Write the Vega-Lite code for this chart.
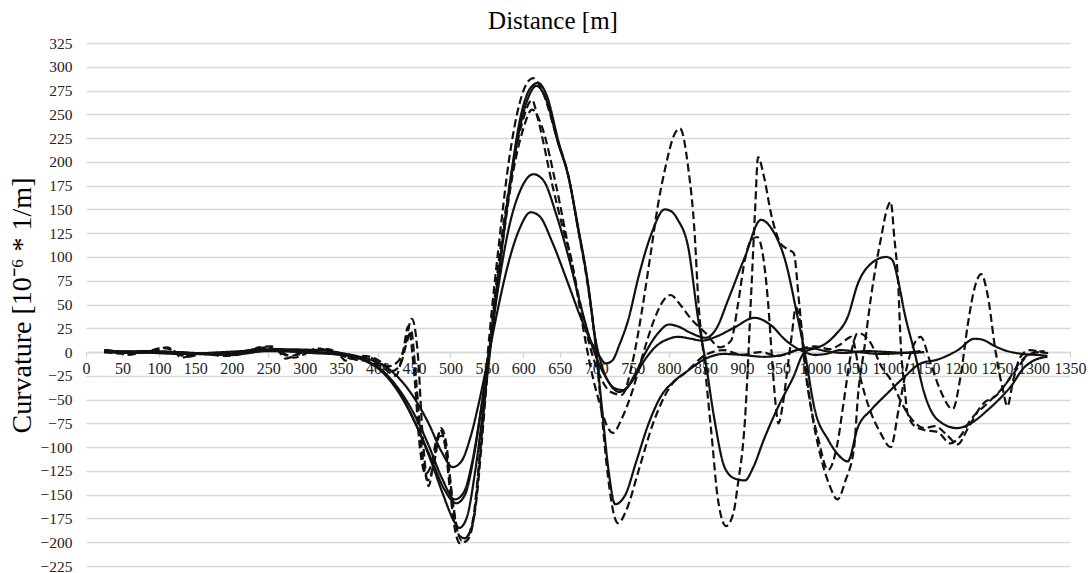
{
  "$schema": "https://vega.github.io/schema/vega-lite/v6.json",
  "width": 984,
  "height": 523,
  "autosize": {"type": "none"},
  "padding": {"left": 86, "top": 43, "right": 18, "bottom": 7},
  "background": "white",
  "config": {"view": {"stroke": null}},
  "title": {"text": "Distance [m]", "font": "Liberation Serif", "fontSize": 25, "fontWeight": "normal", "color": "#000000", "anchor": "middle", "dx": -25, "offset": -18, "baseline": "alphabetic"},
  "datasets": {
    "pts": [
      {"s":"S1","m":25,"v":2},{"s":"S1","m":40,"v":1},{"s":"S1","m":80,"v":0},{"s":"S1","m":140,"v":-1},{"s":"S1","m":200,"v":-2},{"s":"S1","m":250,"v":1},{"s":"S1","m":300,"v":0},{"s":"S1","m":340,"v":-1},{"s":"S1","m":370,"v":-4},{"s":"S1","m":390,"v":-8},{"s":"S1","m":410,"v":-15},{"s":"S1","m":430,"v":-28},{"s":"S1","m":450,"v":-48},{"s":"S1","m":470,"v":-75},{"s":"S1","m":488,"v":-105},{"s":"S1","m":503,"v":-121},{"s":"S1","m":515,"v":-115},{"s":"S1","m":528,"v":-88},{"s":"S1","m":540,"v":-50},{"s":"S1","m":552,"v":-5},{"s":"S1","m":565,"v":45},{"s":"S1","m":580,"v":95},{"s":"S1","m":595,"v":130},{"s":"S1","m":610,"v":147},{"s":"S1","m":622,"v":143},{"s":"S1","m":640,"v":115},{"s":"S1","m":660,"v":75},{"s":"S1","m":680,"v":34},{"s":"S1","m":695,"v":8},{"s":"S1","m":705,"v":-5},{"s":"S1","m":713,"v":-12},{"s":"S1","m":722,"v":-9},{"s":"S1","m":732,"v":8},{"s":"S1","m":744,"v":34},{"s":"S1","m":758,"v":79},{"s":"S1","m":776,"v":125},{"s":"S1","m":794,"v":150},{"s":"S1","m":803,"v":148},{"s":"S1","m":812,"v":139},{"s":"S1","m":826,"v":111},{"s":"S1","m":840,"v":34},{"s":"S1","m":850,"v":-10},{"s":"S1","m":862,"v":-70},{"s":"S1","m":876,"v":-121},{"s":"S1","m":890,"v":-133},{"s":"S1","m":904,"v":-135},{"s":"S1","m":915,"v":-122},{"s":"S1","m":930,"v":-92},{"s":"S1","m":950,"v":-57},{"s":"S1","m":970,"v":-27},{"s":"S1","m":986,"v":0},{"s":"S1","m":1000,"v":4},{"s":"S1","m":1013,"v":8},{"s":"S1","m":1028,"v":18},{"s":"S1","m":1045,"v":37},{"s":"S1","m":1059,"v":72},{"s":"S1","m":1077,"v":93},{"s":"S1","m":1098,"v":100},{"s":"S1","m":1106,"v":97},{"s":"S1","m":1114,"v":76},{"s":"S1","m":1123,"v":41},{"s":"S1","m":1137,"v":-1},{"s":"S1","m":1150,"v":-43},{"s":"S1","m":1168,"v":-71},{"s":"S1","m":1195,"v":-80},{"s":"S1","m":1214,"v":-75},{"s":"S1","m":1237,"v":-61},{"s":"S1","m":1255,"v":-48},{"s":"S1","m":1270,"v":-35},{"s":"S1","m":1285,"v":-18},{"s":"S1","m":1300,"v":-9},{"s":"S1","m":1319,"v":-5},

      {"s":"S2","m":25,"v":0},{"s":"S2","m":60,"v":-1},{"s":"S2","m":120,"v":0},{"s":"S2","m":180,"v":-3},{"s":"S2","m":240,"v":3},{"s":"S2","m":300,"v":1},{"s":"S2","m":340,"v":-2},{"s":"S2","m":370,"v":-5},{"s":"S2","m":390,"v":-12},{"s":"S2","m":410,"v":-22},{"s":"S2","m":430,"v":-40},{"s":"S2","m":450,"v":-65},{"s":"S2","m":470,"v":-98},{"s":"S2","m":488,"v":-132},{"s":"S2","m":506,"v":-155},{"s":"S2","m":518,"v":-148},{"s":"S2","m":530,"v":-115},{"s":"S2","m":542,"v":-60},{"s":"S2","m":553,"v":0},{"s":"S2","m":565,"v":65},{"s":"S2","m":580,"v":130},{"s":"S2","m":597,"v":172},{"s":"S2","m":614,"v":187},{"s":"S2","m":628,"v":180},{"s":"S2","m":645,"v":145},{"s":"S2","m":662,"v":100},{"s":"S2","m":680,"v":45},{"s":"S2","m":695,"v":5},{"s":"S2","m":710,"v":-22},{"s":"S2","m":725,"v":-38},{"s":"S2","m":738,"v":-40},{"s":"S2","m":752,"v":-25},{"s":"S2","m":768,"v":0},{"s":"S2","m":785,"v":20},{"s":"S2","m":800,"v":29},{"s":"S2","m":812,"v":27},{"s":"S2","m":830,"v":20},{"s":"S2","m":850,"v":15},{"s":"S2","m":865,"v":25},{"s":"S2","m":881,"v":55},{"s":"S2","m":904,"v":100},{"s":"S2","m":926,"v":139},{"s":"S2","m":942,"v":128},{"s":"S2","m":959,"v":97},{"s":"S2","m":977,"v":34},{"s":"S2","m":986,"v":0},{"s":"S2","m":1000,"v":-61},{"s":"S2","m":1018,"v":-92},{"s":"S2","m":1032,"v":-108},{"s":"S2","m":1045,"v":-115},{"s":"S2","m":1059,"v":-79},{"s":"S2","m":1077,"v":-61},{"s":"S2","m":1100,"v":-43},{"s":"S2","m":1123,"v":-26},{"s":"S2","m":1145,"v":-12},{"s":"S2","m":1168,"v":-8},{"s":"S2","m":1196,"v":2},{"s":"S2","m":1219,"v":14},{"s":"S2","m":1230,"v":13},{"s":"S2","m":1245,"v":7},{"s":"S2","m":1260,"v":2},{"s":"S2","m":1285,"v":-2},{"s":"S2","m":1305,"v":-3},{"s":"S2","m":1319,"v":-4},

      {"s":"S3","m":25,"v":1},{"s":"S3","m":70,"v":0},{"s":"S3","m":130,"v":-2},{"s":"S3","m":190,"v":0},{"s":"S3","m":250,"v":2},{"s":"S3","m":310,"v":-1},{"s":"S3","m":350,"v":-3},{"s":"S3","m":375,"v":-7},{"s":"S3","m":395,"v":-14},{"s":"S3","m":415,"v":-28},{"s":"S3","m":435,"v":-50},{"s":"S3","m":455,"v":-80},{"s":"S3","m":475,"v":-115},{"s":"S3","m":492,"v":-145},{"s":"S3","m":508,"v":-159},{"s":"S3","m":520,"v":-150},{"s":"S3","m":532,"v":-110},{"s":"S3","m":544,"v":-50},{"s":"S3","m":554,"v":5},{"s":"S3","m":566,"v":80},{"s":"S3","m":580,"v":165},{"s":"S3","m":595,"v":235},{"s":"S3","m":608,"v":270},{"s":"S3","m":618,"v":280},{"s":"S3","m":630,"v":268},{"s":"S3","m":648,"v":219},{"s":"S3","m":662,"v":184},{"s":"S3","m":675,"v":130},{"s":"S3","m":689,"v":70},{"s":"S3","m":698,"v":18},{"s":"S3","m":708,"v":-15},{"s":"S3","m":720,"v":-35},{"s":"S3","m":732,"v":-42},{"s":"S3","m":748,"v":-32},{"s":"S3","m":765,"v":-10},{"s":"S3","m":782,"v":6},{"s":"S3","m":800,"v":14},{"s":"S3","m":812,"v":16},{"s":"S3","m":830,"v":14},{"s":"S3","m":845,"v":12},{"s":"S3","m":867,"v":17},{"s":"S3","m":890,"v":26},{"s":"S3","m":917,"v":36},{"s":"S3","m":940,"v":28},{"s":"S3","m":959,"v":13},{"s":"S3","m":986,"v":0},{"s":"S3","m":1000,"v":-3},{"s":"S3","m":1015,"v":-2},{"s":"S3","m":1035,"v":2},{"s":"S3","m":1060,"v":0},{"s":"S3","m":1090,"v":-2},{"s":"S3","m":1120,"v":-1},{"s":"S3","m":1145,"v":1},

      {"s":"S4","m":25,"v":0},{"s":"S4","m":90,"v":1},{"s":"S4","m":150,"v":-1},{"s":"S4","m":210,"v":-2},{"s":"S4","m":260,"v":3},{"s":"S4","m":320,"v":2},{"s":"S4","m":350,"v":-1},{"s":"S4","m":372,"v":-5},{"s":"S4","m":392,"v":-12},{"s":"S4","m":412,"v":-24},{"s":"S4","m":432,"v":-45},{"s":"S4","m":452,"v":-75},{"s":"S4","m":472,"v":-112},{"s":"S4","m":490,"v":-150},{"s":"S4","m":505,"v":-178},{"s":"S4","m":512,"v":-185},{"s":"S4","m":522,"v":-175},{"s":"S4","m":534,"v":-125},{"s":"S4","m":545,"v":-60},{"s":"S4","m":555,"v":5},{"s":"S4","m":568,"v":95},{"s":"S4","m":582,"v":180},{"s":"S4","m":597,"v":250},{"s":"S4","m":610,"v":278},{"s":"S4","m":620,"v":283},{"s":"S4","m":632,"v":270},{"s":"S4","m":648,"v":222},{"s":"S4","m":662,"v":184},{"s":"S4","m":675,"v":132},{"s":"S4","m":688,"v":75},{"s":"S4","m":698,"v":15},{"s":"S4","m":708,"v":-60},{"s":"S4","m":717,"v":-125},{"s":"S4","m":726,"v":-160},{"s":"S4","m":740,"v":-150},{"s":"S4","m":755,"v":-115},{"s":"S4","m":772,"v":-75},{"s":"S4","m":790,"v":-45},{"s":"S4","m":805,"v":-32},{"s":"S4","m":825,"v":-20},{"s":"S4","m":850,"v":-7},{"s":"S4","m":875,"v":-2},{"s":"S4","m":900,"v":-3},{"s":"S4","m":930,"v":-5},{"s":"S4","m":955,"v":-3},{"s":"S4","m":975,"v":2},{"s":"S4","m":995,"v":4},{"s":"S4","m":1015,"v":1},{"s":"S4","m":1040,"v":-1},{"s":"S4","m":1070,"v":1},{"s":"S4","m":1100,"v":0},{"s":"S4","m":1130,"v":-1},{"s":"S4","m":1150,"v":0},

      {"s":"D1","m":25,"v":2},{"s":"D1","m":45,"v":0},{"s":"D1","m":55,"v":-3},{"s":"D1","m":75,"v":-1},{"s":"D1","m":100,"v":3},{"s":"D1","m":110,"v":5},{"s":"D1","m":120,"v":2},{"s":"D1","m":131,"v":-6},{"s":"D1","m":145,"v":-3},{"s":"D1","m":170,"v":-1},{"s":"D1","m":200,"v":-3},{"s":"D1","m":225,"v":1},{"s":"D1","m":237,"v":5},{"s":"D1","m":255,"v":6},{"s":"D1","m":265,"v":0},{"s":"D1","m":274,"v":-7},{"s":"D1","m":290,"v":-2},{"s":"D1","m":305,"v":1},{"s":"D1","m":319,"v":4},{"s":"D1","m":335,"v":0},{"s":"D1","m":350,"v":-5},{"s":"D1","m":356,"v":-9},{"s":"D1","m":365,"v":-6},{"s":"D1","m":380,"v":-4},{"s":"D1","m":400,"v":-8},{"s":"D1","m":415,"v":-15},{"s":"D1","m":428,"v":-10},{"s":"D1","m":437,"v":5},{"s":"D1","m":447,"v":35},{"s":"D1","m":455,"v":0},{"s":"D1","m":462,"v":-90},{"s":"D1","m":470,"v":-141},{"s":"D1","m":478,"v":-110},{"s":"D1","m":486,"v":-82},{"s":"D1","m":493,"v":-100},{"s":"D1","m":500,"v":-150},{"s":"D1","m":507,"v":-190},{"s":"D1","m":513,"v":-201},{"s":"D1","m":523,"v":-198},{"s":"D1","m":533,"v":-170},{"s":"D1","m":541,"v":-100},{"s":"D1","m":548,"v":-30},{"s":"D1","m":555,"v":30},{"s":"D1","m":566,"v":110},{"s":"D1","m":580,"v":200},{"s":"D1","m":595,"v":262},{"s":"D1","m":607,"v":285},{"s":"D1","m":614,"v":288},{"s":"D1","m":625,"v":276},{"s":"D1","m":648,"v":220},{"s":"D1","m":662,"v":185},{"s":"D1","m":675,"v":130},{"s":"D1","m":688,"v":72},{"s":"D1","m":698,"v":15},{"s":"D1","m":707,"v":-60},{"s":"D1","m":716,"v":-130},{"s":"D1","m":724,"v":-170},{"s":"D1","m":730,"v":-180},{"s":"D1","m":742,"v":-165},{"s":"D1","m":758,"v":-125},{"s":"D1","m":778,"v":-75},{"s":"D1","m":800,"v":-38},{"s":"D1","m":825,"v":-20},{"s":"D1","m":850,"v":-3},{"s":"D1","m":875,"v":2},{"s":"D1","m":900,"v":-3},{"s":"D1","m":925,"v":0},{"s":"D1","m":950,"v":-4},{"s":"D1","m":975,"v":2},{"s":"D1","m":1000,"v":6},{"s":"D1","m":1020,"v":3},{"s":"D1","m":1035,"v":8},{"s":"D1","m":1050,"v":16},{"s":"D1","m":1063,"v":-29},{"s":"D1","m":1075,"v":-60},{"s":"D1","m":1090,"v":-85},{"s":"D1","m":1104,"v":-100},{"s":"D1","m":1115,"v":-60},{"s":"D1","m":1128,"v":-10},{"s":"D1","m":1145,"v":16},{"s":"D1","m":1158,"v":-10},{"s":"D1","m":1172,"v":-40},{"s":"D1","m":1189,"v":-60},{"s":"D1","m":1200,"v":-25},{"s":"D1","m":1210,"v":30},{"s":"D1","m":1220,"v":70},{"s":"D1","m":1228,"v":82},{"s":"D1","m":1237,"v":60},{"s":"D1","m":1248,"v":0},{"s":"D1","m":1258,"v":-40},{"s":"D1","m":1264,"v":-57},{"s":"D1","m":1272,"v":-30},{"s":"D1","m":1282,"v":-5},{"s":"D1","m":1295,"v":2},{"s":"D1","m":1310,"v":0},{"s":"D1","m":1320,"v":-1},

      {"s":"D2","m":25,"v":0},{"s":"D2","m":60,"v":-2},{"s":"D2","m":90,"v":1},{"s":"D2","m":120,"v":-1},{"s":"D2","m":140,"v":-5},{"s":"D2","m":160,"v":-2},{"s":"D2","m":190,"v":-4},{"s":"D2","m":215,"v":-2},{"s":"D2","m":240,"v":4},{"s":"D2","m":260,"v":3},{"s":"D2","m":280,"v":-4},{"s":"D2","m":300,"v":-1},{"s":"D2","m":325,"v":3},{"s":"D2","m":345,"v":-2},{"s":"D2","m":370,"v":-8},{"s":"D2","m":390,"v":-10},{"s":"D2","m":410,"v":-18},{"s":"D2","m":425,"v":-25},{"s":"D2","m":435,"v":0},{"s":"D2","m":442,"v":27},{"s":"D2","m":450,"v":-20},{"s":"D2","m":458,"v":-100},{"s":"D2","m":466,"v":-128},{"s":"D2","m":474,"v":-118},{"s":"D2","m":482,"v":-90},{"s":"D2","m":489,"v":-88},{"s":"D2","m":497,"v":-120},{"s":"D2","m":505,"v":-170},{"s":"D2","m":512,"v":-193},{"s":"D2","m":520,"v":-196},{"s":"D2","m":530,"v":-180},{"s":"D2","m":539,"v":-120},{"s":"D2","m":547,"v":-50},{"s":"D2","m":555,"v":15},{"s":"D2","m":567,"v":100},{"s":"D2","m":582,"v":180},{"s":"D2","m":598,"v":240},{"s":"D2","m":612,"v":265},{"s":"D2","m":620,"v":245},{"s":"D2","m":640,"v":175},{"s":"D2","m":655,"v":128},{"s":"D2","m":666,"v":97},{"s":"D2","m":680,"v":34},{"s":"D2","m":692,"v":-15},{"s":"D2","m":705,"v":-55},{"s":"D2","m":715,"v":-78},{"s":"D2","m":723,"v":-85},{"s":"D2","m":735,"v":-70},{"s":"D2","m":750,"v":-40},{"s":"D2","m":765,"v":0},{"s":"D2","m":780,"v":35},{"s":"D2","m":793,"v":55},{"s":"D2","m":802,"v":60},{"s":"D2","m":815,"v":50},{"s":"D2","m":830,"v":35},{"s":"D2","m":850,"v":20},{"s":"D2","m":870,"v":5},{"s":"D2","m":885,"v":12},{"s":"D2","m":894,"v":48},{"s":"D2","m":904,"v":97},{"s":"D2","m":913,"v":118},{"s":"D2","m":921,"v":121},{"s":"D2","m":930,"v":95},{"s":"D2","m":936,"v":50},{"s":"D2","m":941,"v":-5},{"s":"D2","m":946,"v":-54},{"s":"D2","m":950,"v":-75},{"s":"D2","m":956,"v":-55},{"s":"D2","m":962,"v":-20},{"s":"D2","m":968,"v":16},{"s":"D2","m":974,"v":47},{"s":"D2","m":980,"v":30},{"s":"D2","m":987,"v":-20},{"s":"D2","m":995,"v":-60},{"s":"D2","m":1004,"v":-89},{"s":"D2","m":1018,"v":-124},{"s":"D2","m":1030,"v":-100},{"s":"D2","m":1040,"v":-50},{"s":"D2","m":1050,"v":0},{"s":"D2","m":1059,"v":20},{"s":"D2","m":1077,"v":9},{"s":"D2","m":1091,"v":-15},{"s":"D2","m":1104,"v":-29},{"s":"D2","m":1120,"v":-55},{"s":"D2","m":1138,"v":-75},{"s":"D2","m":1150,"v":-80},{"s":"D2","m":1165,"v":-78},{"s":"D2","m":1182,"v":-88},{"s":"D2","m":1196,"v":-97},{"s":"D2","m":1210,"v":-80},{"s":"D2","m":1230,"v":-55},{"s":"D2","m":1250,"v":-45},{"s":"D2","m":1265,"v":-30},{"s":"D2","m":1280,"v":-12},{"s":"D2","m":1295,"v":-2},{"s":"D2","m":1310,"v":0},

      {"s":"D3","m":25,"v":1},{"s":"D3","m":50,"v":-1},{"s":"D3","m":80,"v":0},{"s":"D3","m":105,"v":4},{"s":"D3","m":115,"v":3},{"s":"D3","m":135,"v":-4},{"s":"D3","m":160,"v":-1},{"s":"D3","m":185,"v":-3},{"s":"D3","m":210,"v":-1},{"s":"D3","m":230,"v":3},{"s":"D3","m":250,"v":5},{"s":"D3","m":270,"v":-2},{"s":"D3","m":285,"v":-6},{"s":"D3","m":310,"v":1},{"s":"D3","m":330,"v":3},{"s":"D3","m":350,"v":-2},{"s":"D3","m":365,"v":-7},{"s":"D3","m":385,"v":-5},{"s":"D3","m":405,"v":-12},{"s":"D3","m":420,"v":-20},{"s":"D3","m":432,"v":-12},{"s":"D3","m":440,"v":10},{"s":"D3","m":446,"v":22},{"s":"D3","m":453,"v":-30},{"s":"D3","m":461,"v":-105},{"s":"D3","m":469,"v":-135},{"s":"D3","m":478,"v":-115},{"s":"D3","m":487,"v":-80},{"s":"D3","m":494,"v":-95},{"s":"D3","m":502,"v":-150},{"s":"D3","m":509,"v":-185},{"s":"D3","m":515,"v":-198},{"s":"D3","m":525,"v":-192},{"s":"D3","m":535,"v":-160},{"s":"D3","m":543,"v":-95},{"s":"D3","m":550,"v":-30},{"s":"D3","m":557,"v":25},{"s":"D3","m":570,"v":105},{"s":"D3","m":585,"v":185},{"s":"D3","m":600,"v":235},{"s":"D3","m":612,"v":255},{"s":"D3","m":625,"v":238},{"s":"D3","m":645,"v":175},{"s":"D3","m":662,"v":110},{"s":"D3","m":677,"v":55},{"s":"D3","m":690,"v":10},{"s":"D3","m":705,"v":-25},{"s":"D3","m":720,"v":-42},{"s":"D3","m":735,"v":-45},{"s":"D3","m":750,"v":-10},{"s":"D3","m":762,"v":40},{"s":"D3","m":775,"v":105},{"s":"D3","m":785,"v":156},{"s":"D3","m":794,"v":191},{"s":"D3","m":808,"v":230},{"s":"D3","m":815,"v":235},{"s":"D3","m":826,"v":195},{"s":"D3","m":835,"v":125},{"s":"D3","m":840,"v":55},{"s":"D3","m":849,"v":-15},{"s":"D3","m":858,"v":-85},{"s":"D3","m":867,"v":-155},{"s":"D3","m":878,"v":-183},{"s":"D3","m":888,"v":-170},{"s":"D3","m":894,"v":-141},{"s":"D3","m":904,"v":-72},{"s":"D3","m":913,"v":68},{"s":"D3","m":918,"v":150},{"s":"D3","m":922,"v":205},{"s":"D3","m":930,"v":185},{"s":"D3","m":940,"v":145},{"s":"D3","m":953,"v":114},{"s":"D3","m":963,"v":108},{"s":"D3","m":971,"v":104},{"s":"D3","m":978,"v":55},{"s":"D3","m":985,"v":0},{"s":"D3","m":995,"v":-60},{"s":"D3","m":1008,"v":-110},{"s":"D3","m":1020,"v":-140},{"s":"D3","m":1031,"v":-155},{"s":"D3","m":1042,"v":-135},{"s":"D3","m":1054,"v":-99},{"s":"D3","m":1059,"v":-47},{"s":"D3","m":1068,"v":5},{"s":"D3","m":1077,"v":58},{"s":"D3","m":1091,"v":121},{"s":"D3","m":1100,"v":153},{"s":"D3","m":1104,"v":158},{"s":"D3","m":1109,"v":120},{"s":"D3","m":1114,"v":76},{"s":"D3","m":1118,"v":5},{"s":"D3","m":1123,"v":-37},{"s":"D3","m":1127,"v":-64},{"s":"D3","m":1137,"v":-78},{"s":"D3","m":1150,"v":-82},{"s":"D3","m":1168,"v":-84},{"s":"D3","m":1186,"v":-96},{"s":"D3","m":1200,"v":-88},{"s":"D3","m":1214,"v":-71},{"s":"D3","m":1235,"v":-55},{"s":"D3","m":1255,"v":-40},{"s":"D3","m":1275,"v":-20},{"s":"D3","m":1290,"v":-5},{"s":"D3","m":1305,"v":0},{"s":"D3","m":1315,"v":1}
    ]
  },
  "data": {"name": "pts"},
  "mark": {"type": "line", "interpolate": "monotone", "color": "#111111"},
  "encoding": {
    "x": {
      "field": "m", "type": "quantitative",
      "scale": {"domain": [0, 1350], "nice": false, "zero": false},
      "axis": {
        "values": [0,50,100,150,200,250,300,350,400,450,500,550,600,650,700,750,800,850,900,950,1000,1050,1100,1150,1200,1250,1300,1350],
        "format": "d",
        "grid": false, "offset": -214, "title": null,
        "domainColor": "#d9d9d9", "domainWidth": 1.3,
        "tickColor": "#d0d0d0", "tickSize": 5, "tickWidth": 1.3,
        "labelPadding": 3, "labelFont": "Liberation Serif", "labelFontSize": 16, "labelColor": "#222222",
        "labelOverlap": false, "labelFlush": false, "labelBound": false
      }
    },
    "y": {
      "field": "v", "type": "quantitative",
      "scale": {"domain": [-225, 325], "nice": false, "zero": false},
      "axis": {
        "values": [-225,-200,-175,-150,-125,-100,-75,-50,-25,0,25,50,75,100,125,150,175,200,225,250,275,300,325],
        "format": "d",
        "grid": true, "gridColor": "#d9d9d9", "gridWidth": 1.3,
        "domain": false, "ticks": false,
        "labelPadding": 14, "labelFont": "Liberation Serif", "labelFontSize": 15.5, "labelColor": "#222222",
        "title": "Curvature [10⁻⁶ * 1/m]", "titleFont": "Liberation Serif", "titleFontSize": 28, "titleFontWeight": "normal", "titleColor": "#000000",
        "titleAngle": -90, "titleX": -64, "titleY": 262, "titleAlign": "center", "titleBaseline": "middle"
      }
    },
    "detail": {"field": "s", "type": "nominal"},
    "strokeDash": {
      "field": "s", "type": "nominal", "legend": null,
      "scale": {"domain": ["S1","S2","S3","S4","D1","D2","D3"], "range": [[1,0],[1,0],[1,0],[1,0],[8,4],[8,4],[8,4]]}
    },
    "strokeWidth": {
      "field": "s", "type": "nominal", "legend": null,
      "scale": {"domain": ["S1","S2","S3","S4","D1","D2","D3"], "range": [2.2,2.2,2.2,2.2,2.8,2.8,2.8]}
    }
  }
}
